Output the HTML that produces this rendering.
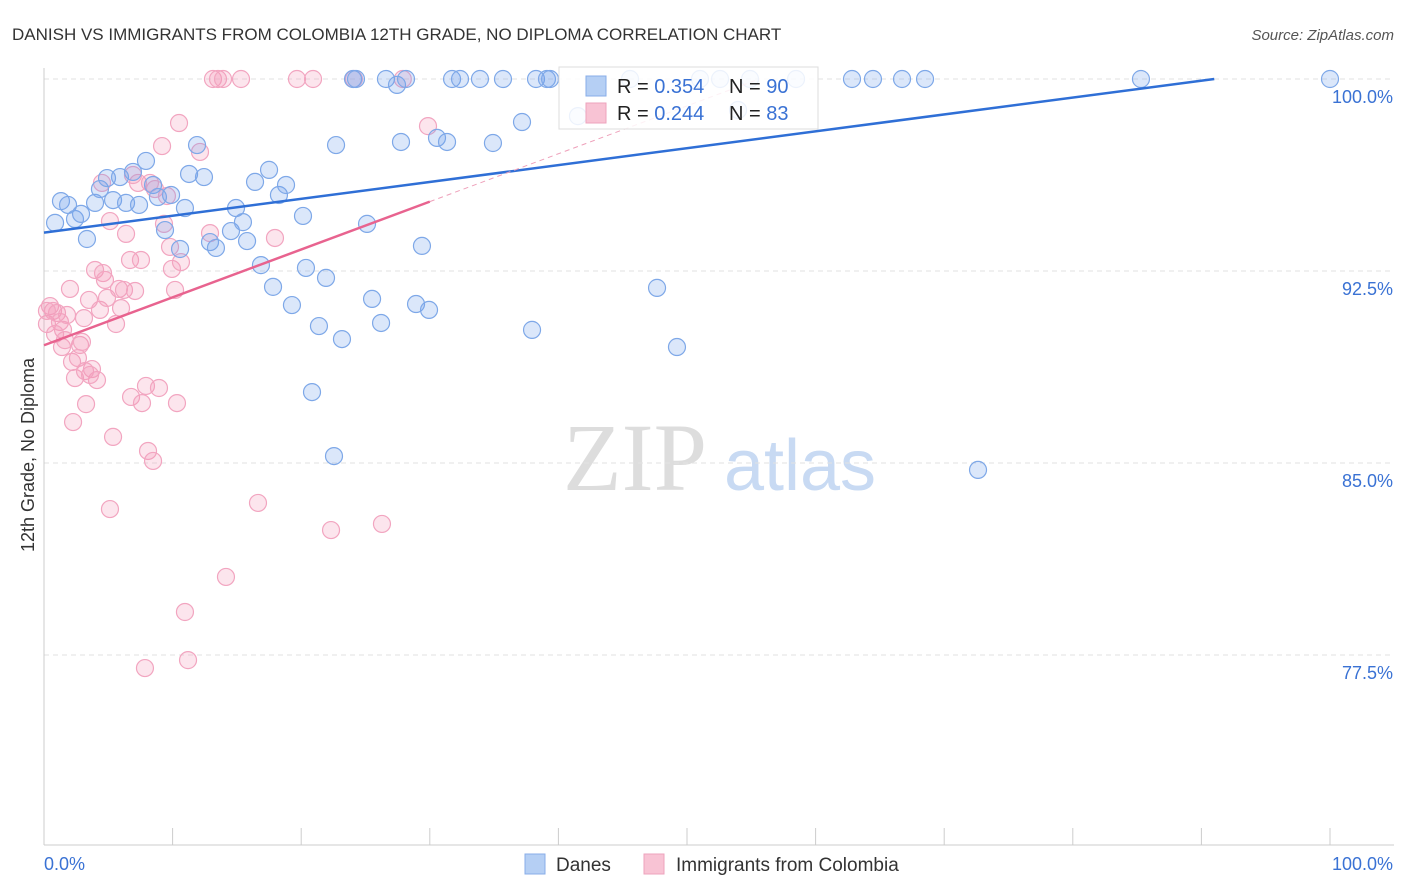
<!DOCTYPE html>
<html><head><meta charset="utf-8"><style>
body{margin:0;background:#fff;font-family:"Liberation Sans",sans-serif}
svg{display:block}
</style></head><body>
<svg id="c" width="1406" height="892">
<text x="12" y="40" font-size="17" fill="#333">DANISH VS IMMIGRANTS FROM COLOMBIA 12TH GRADE, NO DIPLOMA CORRELATION CHART</text>
<text x="1394" y="40" font-size="15" fill="#555" font-style="italic" text-anchor="end">Source: ZipAtlas.com</text>
<text x="0" y="0" font-size="18" fill="#333" text-anchor="middle" transform="translate(34,455) rotate(-90)">12th Grade, No Diploma</text>
<g><text x="635" y="490" font-size="96" font-family="Liberation Serif,serif" fill="#ddd" text-anchor="middle">ZIP</text><text x="800" y="490" font-size="72" fill="#c8daf3" text-anchor="middle">atlas</text></g>
<g id="grid"></g><g id="axes"></g><g id="pts"></g><g id="lines"></g>
<g>
<rect x="559" y="67" width="259" height="62" fill="rgba(255,255,255,0.85)" stroke="#ddd"/>
<rect x="586" y="76" width="20" height="20" fill="#b5cff4" stroke="#88aee8"/>
<rect x="586" y="103" width="20" height="20" fill="#f8c3d4" stroke="#eea3bd"/>
<text x="617" y="93" font-size="20" fill="#222">R = <tspan fill="#3a72d4">0.354</tspan></text>
<text x="729" y="93" font-size="20" fill="#222">N = <tspan fill="#3a72d4">90</tspan></text>
<text x="617" y="120" font-size="20" fill="#222">R = <tspan fill="#3a72d4">0.244</tspan></text>
<text x="729" y="120" font-size="20" fill="#222">N = <tspan fill="#3a72d4"> 83</tspan></text>
</g>
<g>
<rect x="525" y="854" width="20" height="20" fill="#b5cff4" stroke="#88aee8"/>
<text x="556" y="871" font-size="19" fill="#333">Danes</text>
<rect x="644" y="854" width="20" height="20" fill="#f8c3d4" stroke="#eea3bd"/>
<text x="676" y="871" font-size="19" fill="#333">Immigrants from Colombia</text>
</g>
</svg>
<script>
const blueX=[0.86,1.32,1.87,2.41,2.88,3.34,3.97,4.35,4.90,5.37,5.91,6.38,6.92,7.39,7.93,8.48,8.86,9.41,9.88,10.58,10.96,11.28,11.90,12.44,12.91,13.37,14.54,14.93,15.47,15.79,16.41,16.87,17.50,17.81,18.27,18.82,19.28,20.14,20.37,20.84,21.38,21.93,22.55,22.71,23.17,24.03,24.26,25.12,25.51,26.21,26.59,27.45,27.76,28.15,28.93,29.39,29.94,30.56,31.34,31.73,32.35,33.90,34.91,35.69,37.17,37.95,38.26,39.11,39.35,41.52,45.57,47.67,49.22,51.01,52.57,53.97,54.90,58.48,62.83,64.46,66.72,68.51,72.63,85.30,100];
const blueY=[94.38,95.23,95.08,94.53,94.73,93.75,95.16,95.70,96.13,95.27,96.17,95.16,96.37,95.08,96.80,95.86,95.39,94.10,95.47,93.36,94.96,96.29,97.42,96.17,93.63,93.40,94.06,94.96,94.41,93.67,95.98,92.73,96.45,91.88,95.47,95.86,91.17,94.65,92.62,87.77,90.35,92.23,85.27,97.42,89.84,100,100,94.34,91.41,90.47,100,99.77,97.54,100,91.21,93.48,90.98,97.70,97.54,100,100,100,97.50,100,98.32,90.20,100,100,100,98.55,100,91.84,89.53,100,100,98.79,100,100,100,100,100,100,84.73,100,100];
const pinkX=[0.23,0.47,0.70,1.01,1.24,1.48,1.79,2.02,2.18,2.41,2.26,2.80,3.11,3.27,3.50,3.73,3.97,4.12,4.35,4.59,4.74,4.90,5.13,5.37,5.60,5.83,5.99,6.22,6.38,6.69,6.77,7.08,7.31,7.54,7.62,7.93,8.09,8.48,8.63,8.94,9.18,9.33,9.56,9.80,9.95,10.19,10.34,10.50,10.65,10.96,11.20,12.13,12.91,13.14,13.53,13.92,14.15,15.32,16.64,17.96,19.67,20.92,22.32,26.28,29.86,0.23,0.86,1.40,1.63,2.64,3.19,3.58,2.95,5.13,8.24,6.92,7.85,4.51,24.1,27.9];
const pinkY=[90.43,91.13,90.94,90.86,90.51,90.20,90.78,91.80,88.95,88.32,86.60,89.61,90.66,87.30,91.37,88.67,92.54,88.24,90.98,92.42,92.15,91.45,83.20,86.02,90.43,91.80,91.05,91.76,93.95,92.93,87.58,91.72,95.94,92.93,87.34,88.01,85.47,85.08,95.70,87.93,97.38,94.34,95.43,93.44,92.58,91.76,87.34,98.28,92.85,79.18,77.30,97.15,93.98,100,100,100,80.55,100,83.44,93.79,100,100,82.38,82.62,98.16,90.94,90.04,89.53,89.80,89.10,88.59,88.44,89.73,94.45,95.94,96.25,76.99,95.94,100,100];
const xTicks=[0,10,20,30,40,50,60,70,80,90,100];
const yTicks=[77.5,85.0,92.5,100.0];
const blueTrend=[94.0,6/91]; // intercept, slope
const pinkTrend=[89.6,0.187];
const X=v=>44+v*12.86, Y=v=>79+(100-v)*25.6;
const NS='http://www.w3.org/2000/svg';
function mk(t,a,p){const e=document.createElementNS(NS,t);for(const k in a)e.setAttribute(k,a[k]);p.appendChild(e);return e;}
const grid=document.getElementById('grid'),axes=document.getElementById('axes'),pts=document.getElementById('pts'),lines=document.getElementById('lines');
yTicks.forEach(t=>{const l=mk('line',{x1:44,x2:1394,y1:Y(t),y2:Y(t),stroke:'#e2e2e2','stroke-dasharray':'5,4'},grid);


const tx=mk('text',{x:1393,y:Y(t)+24,'font-size':18,fill:'#3a72d4','text-anchor':'end'},axes);tx.textContent=t.toFixed(1)+'%';

});
mk('line',{x1:44,x2:44,y1:68,y2:845,stroke:'#ccc'},axes);
mk('line',{x1:44,x2:1394,y1:845,y2:845,stroke:'#ccc'},axes);
xTicks.forEach(t=>{const l=mk('line',{x1:X(t),x2:X(t),y1:828,y2:845,stroke:'#ccc'},axes);

});
[[0,'0.0%','start',44],[100,'100.0%','end',1393]].forEach(d=>{const tx=mk('text',{x:d[3],y:870,'font-size':18,fill:'#3a72d4','text-anchor':d[2]},axes);tx.textContent=d[1];

});
function dots(xs,ys,fill,stroke,name){xs.forEach((x,i)=>{const c=mk('circle',{cx:X(x),cy:Y(ys[i]),r:8.5,fill:fill,stroke:stroke,'stroke-width':1.2},pts);

});}
dots(pinkX,pinkY,'rgba(244,150,185,0.25)','#f2a5c0','colombia-point');
dots(blueX,blueY,'rgba(110,160,235,0.25)','#7ea8e8','danes-point');
const bxEnd=Math.min(100,(100-blueTrend[0])/blueTrend[1]);
let l=mk('line',{x1:X(0),y1:Y(blueTrend[0]),x2:X(bxEnd),y2:Y(blueTrend[0]+blueTrend[1]*bxEnd),stroke:'#2f6fd6','stroke-width':2.5},lines);


l=mk('line',{x1:X(0),y1:Y(pinkTrend[0]),x2:X(30),y2:Y(pinkTrend[0]+pinkTrend[1]*30),stroke:'#e8638f','stroke-width':2.5},lines);


const pxEnd=(100-pinkTrend[0])/pinkTrend[1];
l=mk('line',{x1:X(30),y1:Y(pinkTrend[0]+pinkTrend[1]*30),x2:X(pxEnd),y2:Y(100),stroke:'#eea0ba','stroke-width':1,'stroke-dasharray':'5,4'},lines);


</script>
</body></html>
